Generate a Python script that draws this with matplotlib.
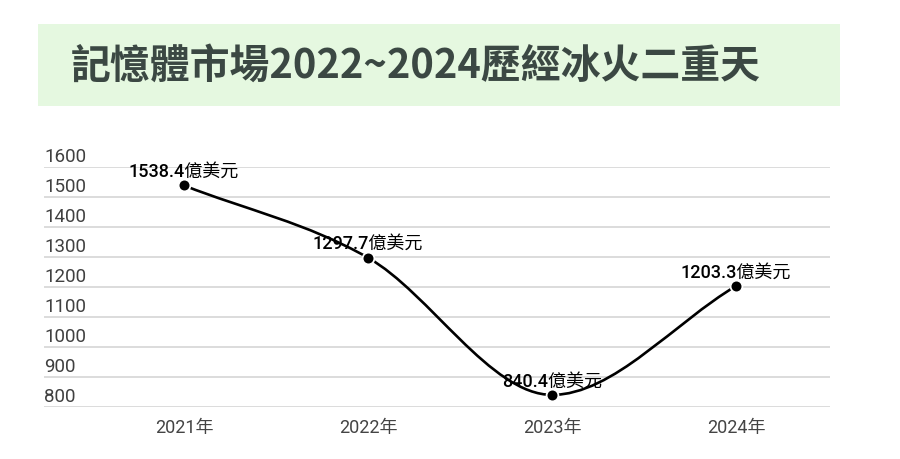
import matplotlib
matplotlib.use("Agg")
import matplotlib.pyplot as plt
import numpy as np
from matplotlib.path import Path
from matplotlib.patches import PathPatch, Rectangle
import matplotlib.transforms as mtransforms

title = "記憶體市場2022~2024歷經冰火二重天"
years = ["2021年", "2022年", "2023年", "2024年"]
values = [1538.4, 1297.7, 840.4, 1203.3]
unit = "億美元"
yticks = [800, 900, 1000, 1100, 1200, 1300, 1400, 1500, 1600]

plt.rcParams['font.family'] = ['Roboto', 'Noto Sans CJK TC', 'DejaVu Sans']

W, H = 900, 460
fig = plt.figure(figsize=(W / 100, H / 100), dpi=100)
fig.patch.set_facecolor("white")

# title box
fig.patches.append(Rectangle((38 / W, 1 - 107 / H), (840 - 38) / W, (107 - 25) / H,
                             transform=fig.transFigure, facecolor="#e5f8e0",
                             edgecolor="none", zorder=0))
fig.text(71 / W, 1 - 66 / H, title, fontsize=28.7, fontweight="bold",
         family=['Noto Sans CJK TC'], color="#3b4843", va="center", ha="left")

ax = fig.add_axes([44 / W, 1 - 408 / H, (830 - 44) / W, (408 - 168) / H])
ax.set_xlim(-140 / 184, 3 + 94 / 184)
ax.set_ylim(yticks[0], yticks[-1])
for s in ax.spines.values():
    s.set_visible(False)
ax.set_yticks(yticks)
ax.yaxis.grid(True, color="#dcdcdc", linewidth=1.4)
ax.set_axisbelow(True)
ax.tick_params(axis="y", length=0, labelleft=False)
ax.set_xticks(range(len(years)))
ax.set_xticklabels(years, fontsize=13, color="#444444")
ax.tick_params(axis="x", length=0, pad=8)

# y labels placed above gridlines
trans = mtransforms.blended_transform_factory(ax.transAxes, ax.transData)
off = mtransforms.ScaledTranslation(0, 1.5 / 72, fig.dpi_scale_trans)
for v in yticks:
    ax.text(0, v, str(v), transform=trans + off, ha="left", va="bottom",
            fontsize=13.5, color="#404040")

# monotone cubic smoothing (Fritsch-Carlson) drawn as bezier path
xs = np.arange(len(values), dtype=float)
ys = np.array(values, dtype=float)
n = len(xs)
delta = np.diff(ys) / np.diff(xs)
m = np.zeros(n)
m[0] = delta[0]
m[-1] = delta[-1]
for k in range(1, n - 1):
    if delta[k - 1] * delta[k] <= 0:
        m[k] = 0.0
    else:
        m[k] = (delta[k - 1] + delta[k]) / 2
for k in range(n - 1):
    if delta[k] == 0:
        m[k] = m[k + 1] = 0.0
        continue
    a = m[k] / delta[k]
    b = m[k + 1] / delta[k]
    s2 = a * a + b * b
    if s2 > 9:
        t = 3 / np.sqrt(s2)
        m[k] = t * a * delta[k]
        m[k + 1] = t * b * delta[k]
verts = [(xs[0], ys[0])]
codes = [Path.MOVETO]
for k in range(n - 1):
    dx = (xs[k + 1] - xs[k]) / 3
    verts += [(xs[k] + dx, ys[k] + m[k] * dx),
              (xs[k + 1] - dx, ys[k + 1] - m[k + 1] * dx),
              (xs[k + 1], ys[k + 1])]
    codes += [Path.CURVE4] * 3
ax.add_patch(PathPatch(Path(verts, codes), facecolor="none", edgecolor="black",
                       linewidth=1.9, zorder=3, capstyle="round"))
ax.plot(xs, ys, linestyle="none", marker="o", markersize=8.5,
        markerfacecolor="black", markeredgecolor="white", markeredgewidth=1.3,
        zorder=4, clip_on=False)

for x, v in zip(xs, values):
    ax.annotate(f"{v}{unit}", (x, v), xytext=(0, 4), textcoords="offset points",
                ha="center", va="bottom", fontsize=13, color="black",
                fontweight="medium", zorder=5)

fig.savefig("out.png", dpi=100, facecolor="white")
